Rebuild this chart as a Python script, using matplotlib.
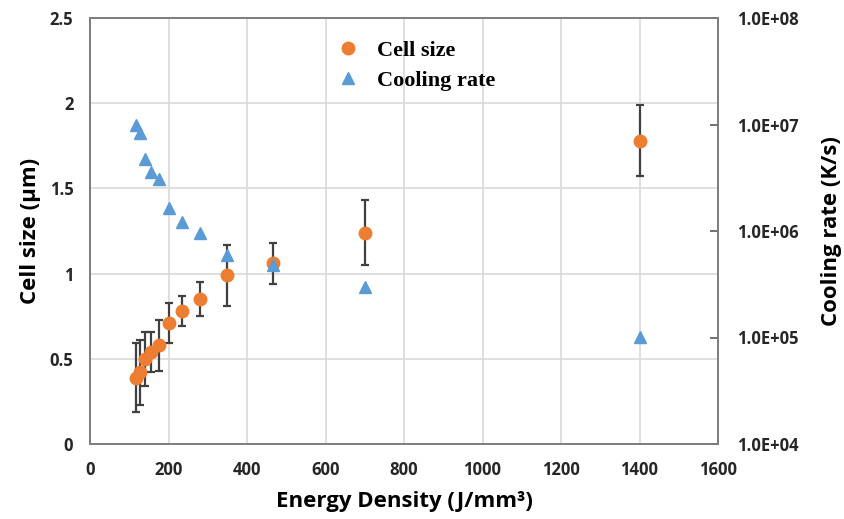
import math
import matplotlib
matplotlib.use("Agg")
from matplotlib import pyplot as plt
from matplotlib.ticker import FixedLocator, FuncFormatter

# Energy density values (J/mm^3)
energy = [116, 127, 140, 155, 175, 200, 234, 280, 350, 467, 700, 1400]

# Cell size (um) with error
cell_size = [0.39, 0.42, 0.50, 0.54, 0.58, 0.71, 0.78, 0.85, 0.99, 1.06, 1.24, 1.78]
cell_err = [0.20, 0.19, 0.16, 0.12, 0.15, 0.12, 0.09, 0.10, 0.18, 0.12, 0.19, 0.21]

# Cooling rate (K/s)
cooling = [1.0e7, 8.3e6, 4.7e6, 3.6e6, 3.1e6, 1.66e6, 1.22e6, 9.5e5,
           6.0e5, 4.8e5, 3.0e5, 1.02e5]

orange = "#ED7D31"
blue = "#5B9BD5"
tick_font = "Open Sans"

fig = plt.figure(figsize=(8.44, 5.19), dpi=100)
ax = fig.add_axes([90 / 844, 1 - 444 / 519, 628 / 844, 426 / 519])
ax2 = ax.twinx()

# Grid
ax.set_xlim(0, 1600)
ax.set_ylim(0, 2.5)
ax.set_xticks(range(0, 1601, 200))
ax.set_yticks([0, 0.5, 1, 1.5, 2, 2.5])
ax.grid(True, color="#D9D9D9", linewidth=1.2)
ax.set_axisbelow(True)
ax.tick_params(length=0, pad=12, labelsize=12)
ax.yaxis.set_major_formatter(FuncFormatter(lambda v, p: "%g" % v))

for a in (ax, ax2):
    for s in a.spines.values():
        s.set_color("#7F7F7F")
        s.set_linewidth(1.3)

# Cell size series
ax.errorbar(energy, cell_size, yerr=cell_err, fmt="none", ecolor="#404040",
            elinewidth=1.6, capsize=3, capthick=1.6, zorder=2)
h1, = ax.plot(energy, cell_size, "o", color=orange, markersize=9,
              linestyle="none", zorder=3, label="Cell size")

# Cooling rate series
ax2.set_yscale("log")
ax2.set_ylim(1e4, 1e8)
h2, = ax2.plot(energy, cooling, "^", color=blue, markersize=8,
               linestyle="none", zorder=3, label="Cooling rate")
ax2.yaxis.set_major_locator(FixedLocator([1e4, 1e5, 1e6, 1e7, 1e8]))
ax2.yaxis.set_minor_locator(FixedLocator([]))
ax2.yaxis.set_major_formatter(
    FuncFormatter(lambda v, p: "1.0E+%02d" % round(math.log10(v))))
ax2.tick_params(axis="y", direction="in", length=6, width=1.2,
                color="#595959", pad=14, labelsize=12)

for a in (ax, ax2):
    for lab in a.get_xticklabels() + a.get_yticklabels():
        lab.set_fontfamily(tick_font)
        lab.set_fontweight("bold")
        lab.set_color("#262626")

ax.set_xlabel("Energy Density (J/mm³)", fontsize=16, fontweight="bold",
              family=tick_font, labelpad=9)
ax.set_ylabel("Cell size (µm)", fontsize=16, fontweight="bold",
              family=tick_font, labelpad=6)
ax2.set_ylabel("Cooling rate (K/s)", fontsize=16, fontweight="bold",
               family=tick_font, labelpad=16)

leg = ax.legend([h1, h2], ["Cell size", "Cooling rate"], loc="upper left",
                bbox_to_anchor=(0.343, 0.995), frameon=False,
                handletextpad=0.3, labelspacing=0.45,
                prop={"family": "Liberation Serif", "weight": "bold", "size": 16})

plt.savefig("out.png", dpi=100)
